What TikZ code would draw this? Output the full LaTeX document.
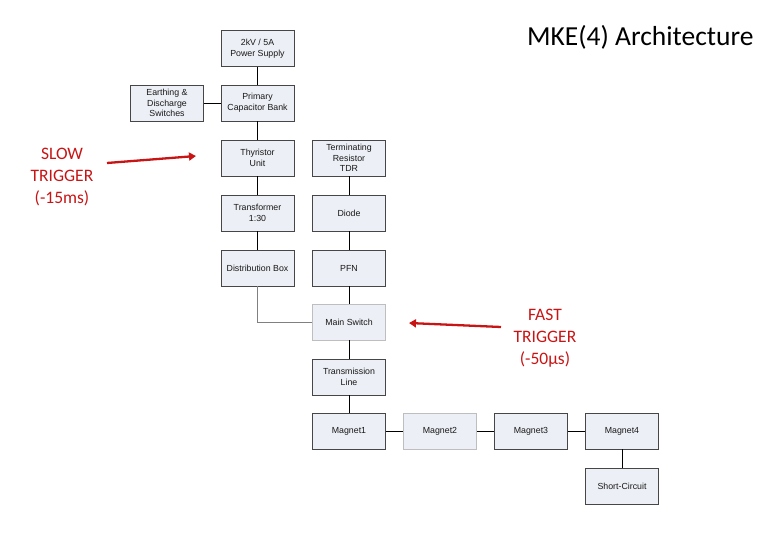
\documentclass[tikz,border=0pt]{standalone}
\usepackage{fontspec}
\setmainfont{Liberation Sans}
\newfontfamily\calib{Carlito}
\usetikzlibrary{arrows.meta}
\definecolor{boxfill}{RGB}{236,239,245}
\definecolor{boxline}{RGB}{70,70,70}
\definecolor{trig}{RGB}{200,20,20}
\tikzset{
  blk/.style={draw=boxline, fill=boxfill, line width=0.9pt, minimum width=73pt, minimum height=36pt,
    inner sep=1pt, align=center, font=\fontsize{8.8}{10.8}\selectfont, text=black!90},
  softblk/.style={blk, draw=boxline!35},
  link/.style={draw=black, line width=0.9pt},
  thinlink/.style={draw=gray, line width=0.6pt},
  trigarrow/.style={draw=trig, line width=2.3pt, -{Triangle[length=7pt,width=8pt]}},
  trigtext/.style={text=trig, align=center, font=\calib\fontsize{17.5}{22}\selectfont},
}
\begin{document}
\begin{tikzpicture}[x=1pt,y=-1pt]
\useasboundingbox (0,0) rectangle (780,540);
\node[blk] (ps) at (257.5,48.5) {2kV / 5A\\Power Supply};
\node[blk] (earth) at (167,103) {Earthing \&\\Discharge\\Switches};
\node[blk] (pcb) at (257.5,103) {Primary\\Capacitor Bank};
\node[blk] (thy) at (257.5,158) {Thyristor\\Unit};
\node[blk] (term) at (349,158) {Terminating\\Resistor\\TDR};
\node[blk] (trans) at (257.5,213) {Transformer\\1:30};
\node[blk] (diode) at (349,213) {Diode};
\node[blk] (dist) at (257.5,268) {Distribution Box};
\node[blk] (pfn) at (349,268) {PFN};
\node[softblk] (ms) at (349,322) {Main Switch};
\node[blk] (tl) at (349,377) {Transmission\\Line};
\node[blk] (m1) at (349,431) {Magnet1};
\node[softblk] (m2) at (440,431) {Magnet2};
\node[blk] (m3) at (531,431) {Magnet3};
\node[blk] (m4) at (622,431) {Magnet4};
\node[blk] (sc) at (622,486) {Short-Circuit};

\draw[link] (ps) -- (pcb);
\draw[link] (earth) -- (pcb);
\draw[link] (pcb) -- (thy);
\draw[link] (thy) -- (trans);
\draw[link] (trans) -- (dist);
\draw[link] (term) -- (diode);
\draw[link] (diode) -- (pfn);
\draw[link] (pfn) -- (ms);
\draw[thinlink] (dist.south) |- (ms.west);
\draw[link] (ms) -- (tl);
\draw[link] (tl) -- (m1);
\draw[link] (m1) -- (m2);
\draw[link] (m2) -- (m3);
\draw[link] (m3) -- (m4);
\draw[link] (m4) -- (sc);

\node[font=\calib\fontsize{27.5}{30}\selectfont, anchor=east] (title) at (757,37) {MKE(4) Architecture};

\node[trigtext] (slow) at (62,177) {SLOW\\TRIGGER\\(-15ms)};
\coordinate (slowS) at (107,163);
\coordinate (slowE) at (196,156);
\draw[trigarrow] (slowS) -- (slowE);

\node[trigtext] (fast) at (545,338) {FAST\\TRIGGER\\(-50µs)};
\coordinate (fastS) at (501,327);
\coordinate (fastE) at (409,323);
\draw[trigarrow] (fastS) -- (fastE);
\end{tikzpicture}
\end{document}
